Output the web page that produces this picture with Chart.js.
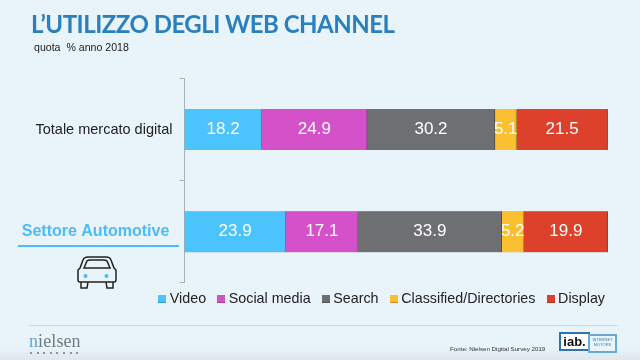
<!DOCTYPE html>
<html lang="it">
<head>
<meta charset="UTF-8">
<title>L'utilizzo degli web channel</title>
<script src="https://cdn.jsdelivr.net/npm/chart.js"></script>
<style>
  html, body { margin: 0; padding: 0; }
  body { width: 640px; height: 360px; overflow: hidden; position: relative; background: #e8f3fa; font-family: "Liberation Sans", sans-serif; }
  canvas { position: absolute; left: 0; top: 0; }
  .abs { position: absolute; white-space: nowrap; }
  #title { left: 31px; top: 9px; font: bold 24px Lato, sans-serif; letter-spacing: -0.5px; color: #2a7fbd; }
  #subtitle { left: 34px; top: 41px; font-size: 10.6px; color: #222; }
  #underline { left: 18px; top: 245px; width: 161px; height: 2px; background: #4bbcf5; }
  #footline { left: 29px; top: 325px; width: 589px; height: 1px; background: #bfdef2; }
  #source { left: 450px; top: 345px; font-size: 6.2px; color: #333; }
  #nielsen { left: 29px; top: 331px; font: 18px "Liberation Serif", serif; color: #6f7b83; letter-spacing: 0.1px; }
  #nielsen b { font-weight: normal; color: #5fa8d8; }
  #dots { left: 30px; top: 352px; width: 50px; height: 2px; background: repeating-linear-gradient(90deg, #8a949b 0 2px, transparent 2px 6.6px); }
  #iab { left: 559px; top: 332px; width: 27px; height: 15px; background: #fff; border: 2px solid #2f74ab; font: bold 13px "Liberation Sans", sans-serif; color: #111; text-align: center; line-height: 15px; }
  #motors { left: 588px; top: 334px; width: 25px; height: 14px; background: #eaf4fb; border: 2px solid #6aa9d6; font: 4px "Liberation Sans", sans-serif; color: #2a7fbd; text-align: center; line-height: 5px; padding-top: 1px; }
  #fade { left: 0; top: 348px; width: 640px; height: 12px; background: linear-gradient(#e8f3fa00, #dfe7ec); }
</style>
</head>
<body>
<div class="abs" id="fade"></div>
<canvas id="chart" width="640" height="360"></canvas>
<div class="abs" id="title">L’UTILIZZO DEGLI WEB CHANNEL</div>
<div class="abs" id="subtitle">quota&nbsp; % anno 2018</div>
<div class="abs" id="underline"></div>
<svg class="abs" style="left:76px;top:255px" width="42" height="36" viewBox="0 0 42 36" fill="none" stroke="#222" stroke-width="1.5">
  <path d="M2 15 L4 13 L7 5 Q8 2 12 2 H30 Q34 2 35 5 L38 13 L40 15 V25 Q40 27 38 27 H4 Q2 27 2 25 Z"/>
  <path d="M8 13 L11 6 Q12 5 14 5 H28 Q30 5 31 6 L34 13 Z"/>
  <path d="M5 27 V33 H11 L12 27 M30 27 L31 33 H37 V27"/>
  <circle cx="9.5" cy="21" r="2" fill="#4bbcf5" stroke="none"/>
  <circle cx="30.5" cy="21" r="2" fill="#4bbcf5" stroke="none"/>
</svg>
<div class="abs" id="footline"></div>
<div class="abs" id="nielsen"><b>n</b>ielsen</div>
<div class="abs" id="dots"></div>
<div class="abs" id="source">Fonte: Nielsen Digital Survey 2019</div>
<div class="abs" id="iab">iab.</div>
<div class="abs" id="motors">INTERNET<br>MOTORS</div>

<script>
const categories = ['Totale mercato digital', 'Settore Automotive'];
const seriesNames = ['Video', 'Social media', 'Search', 'Classified/Directories', 'Display'];
const video = [18.2, 23.9];
const socialMedia = [24.9, 17.1];
const search = [30.2, 33.9];
const classified = [5.1, 5.2];
const display = [21.5, 19.9];
const seriesValues = [video, socialMedia, search, classified, display];
const colors = ['#4bc3fd', '#d551c9', '#6e6f72', '#fbc02f', '#de412b'];
const edges = ['#3c9ccb', '#aa41a1', '#58595b', '#c99a26', '#b23422'];

// small square for the legend, so the gap to the text can be tighter than the default
function swatch(color, edge) {
  const c = document.createElement('canvas');
  c.width = 8;
  c.height = 8;
  const g = c.getContext('2d');
  g.fillStyle = color;
  g.fillRect(0, 0, 8, 8);
  g.fillStyle = edge;
  g.fillRect(0, 7, 8, 1);
  return c;
}

// values written in the middle of every segment
const barValues = {
  id: 'barValues',
  afterDatasetsDraw(chart) {
    const ctx = chart.ctx;
    ctx.save();
    ctx.font = '17px "Liberation Sans"';
    ctx.fillStyle = '#fff';
    ctx.textAlign = 'center';
    ctx.textBaseline = 'middle';
    chart.data.datasets.forEach((ds, i) => {
      chart.getDatasetMeta(i).data.forEach((bar, j) => {
        const c = bar.getCenterPoint();
        ctx.fillText(ds.data[j].toFixed(1), c.x, c.y);
      });
    });
    ctx.restore();
  }
};

// soft shadow round the bars
const barShadow = {
  id: 'barShadow',
  beforeDatasetsDraw(chart) {
    chart.ctx.save();
    chart.ctx.shadowColor = 'rgba(0,0,0,0.3)';
    chart.ctx.shadowBlur = 2;
    chart.ctx.shadowOffsetY = 0.5;
  },
  afterDatasetsDraw(chart) {
    chart.ctx.restore();
  }
};

// move the legend by hand, its padding also sets the gaps between the items
const legendShift = {
  id: 'legendShift',
  afterLayout(chart) {
    chart.legend.top -= 6;
    chart.legend.bottom -= 6;
    chart.legend.right += 12;
  }
};

new Chart(document.getElementById('chart'), {
  type: 'bar',
  data: {
    labels: categories,
    datasets: seriesNames.map((name, i) => ({
      label: name,
      data: seriesValues[i],
      backgroundColor: colors[i],
      borderColor: edges[i],
      borderWidth: { right: 1 },
      borderSkipped: false,
      pointStyle: swatch(colors[i], edges[i]),
      barThickness: 41
    }))
  },
  plugins: [barShadow, barValues, legendShift],
  options: {
    indexAxis: 'y',
    responsive: false,
    animation: false,
    layout: { padding: { top: 78.5, right: 32, bottom: 38, left: 0 } },
    scales: {
      x: { stacked: true, display: false, min: 0, max: 100 },
      y: {
        stacked: true,
        afterFit(scale) { scale.width = 184.5; },
        border: { color: '#a9b3ba', width: 1 },
        grid: { drawOnChartArea: false, drawTicks: true, tickLength: 5, color: '#a9b3ba' },
        ticks: {
          padding: 7,
          // thin space keeps the blue label a bit off the axis
          callback(value, i) { return this.getLabelForValue(value) + (i === 1 ? '\u2009' : ''); },
          color: ctx => ctx.index === 1 ? '#4bbcf5' : '#222',
          font: ctx => ctx.index === 1
            ? { family: '"Liberation Sans"', size: 16, weight: 'bold' }
            : { family: '"Liberation Sans"', size: 14.5 }
        }
      }
    },
    plugins: {
      tooltip: { enabled: false },
      title: { display: false },
      legend: {
        display: true,
        position: 'bottom',
        align: 'end',
        labels: {
          usePointStyle: true,
          pointStyleWidth: 0.5,
          padding: 15,
          color: '#222',
          font: { family: '"Liberation Sans"', size: 14.3 }
        }
      }
    }
  }
});
</script>
</body>
</html>
